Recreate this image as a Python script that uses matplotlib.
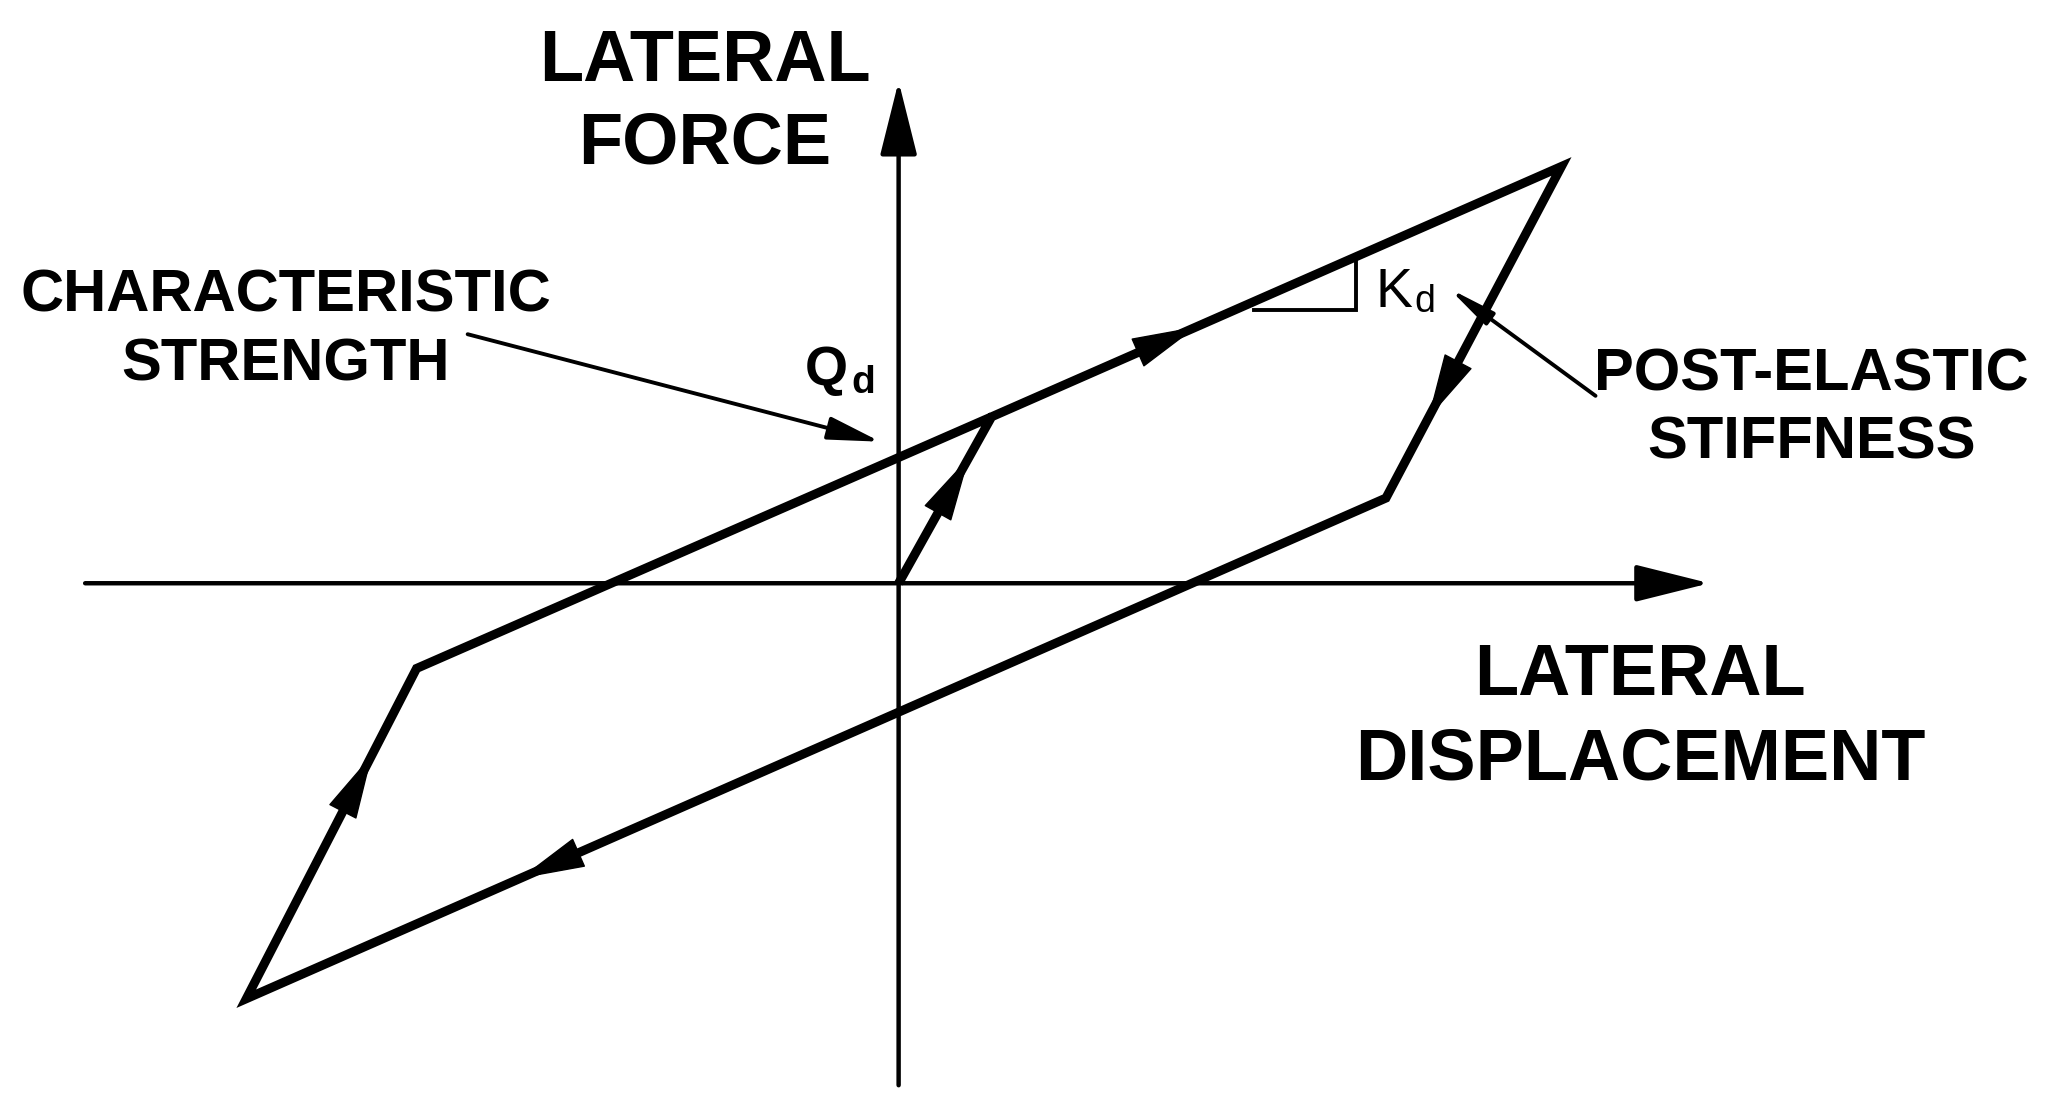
import matplotlib.pyplot as plt
import numpy as np

# hysteresis loop vertices (lateral displacement, lateral force), arbitrary units
disp = [0.0, 0.71, 5.06, 3.72, -4.98, -3.68, 0.71]
force = [0.0, 1.27, 3.18, 0.65, -3.17, -0.65, 1.27]

# direction arrows on the loop: segment index and position along it
arrow_seg = [0, 1, 2, 3, 4]
arrow_frac = [0.76, 0.36, 0.76, 0.76, 0.74]

# Kd slope triangle, displacement range on the upper branch
kd_x = [2.71, 3.49]

plt.rcParams["font.family"] = ["Liberation Sans", "DejaVu Sans"]

fig = plt.figure(figsize=(20.54, 11.18), dpi=100)
ax = fig.add_axes([0, 0, 1, 1])
ax.set_xlim(-6.86, 8.82)
ax.set_ylim(-4.08, 4.45)
ax.axis("off")

# axes with arrows
axis_arrow = dict(arrowstyle="-|>,head_length=4.6,head_width=1.15", mutation_scale=10,
                  color="black", lw=3.2, shrinkA=0, shrinkB=0)
ax.annotate("", xy=(6.19, 0), xytext=(-6.21, 0), arrowprops=axis_arrow)
ax.annotate("", xy=(0, 3.83), xytext=(0, -3.83), arrowprops=axis_arrow)

# loop
ax.plot(disp, force, color="black", lw=6.5, solid_joinstyle="miter", solid_capstyle="butt")

for seg, f in zip(arrow_seg, arrow_frac):
    p0 = np.array([disp[seg], force[seg]])
    p1 = np.array([disp[seg + 1], force[seg + 1]])
    tip = p0 + f * (p1 - p0)
    u = (p1 - p0) / np.hypot(*(p1 - p0))
    ax.annotate("", xy=tip, xytext=tip - 0.5 * u,
                arrowprops=dict(arrowstyle="-|>,head_length=4.4,head_width=1.05",
                                mutation_scale=10, color="black", lw=1,
                                shrinkA=0, shrinkB=0))

# Kd triangle on the upper branch
slope = (force[2] - force[1]) / (disp[2] - disp[1])
y0 = force[1] + (kd_x[0] - disp[1]) * slope - 0.06
y1 = force[1] + (kd_x[1] - disp[1]) * slope
ax.plot([kd_x[0], kd_x[1], kd_x[1]], [y0, y0, y1], color="black", lw=2.8,
        solid_joinstyle="miter")

ax.text(3.64, 2.11, "K", fontsize=40, ha="left", va="baseline")
ax.text(3.94, 2.07, "d", fontsize=27, ha="left", va="baseline")
ax.text(-0.72, 1.51, "Q", fontsize=40, fontweight="bold", ha="left", va="baseline")
ax.text(-0.36, 1.45, "d", fontsize=28, fontweight="bold", ha="left", va="baseline")

# callouts
ax.annotate("", xy=(-0.14, 1.08), xytext=(-3.29, 1.90),
            arrowprops=dict(arrowstyle="-|>,head_length=3.2,head_width=0.7", mutation_scale=10,
                            color="black", lw=2.8, shrinkA=0, shrinkB=0))
ax.annotate("", xy=(4.20, 2.25), xytext=(5.32, 1.43),
            arrowprops=dict(arrowstyle="-|>,head_length=2.8,head_width=0.45", mutation_scale=10,
                            color="black", lw=2.8, shrinkA=0, shrinkB=0))

big = dict(fontsize=52, fontweight="bold", ha="center", va="baseline")
mid = dict(fontsize=43, fontweight="bold", ha="center", va="baseline")
ax.text(-1.48, 3.83, "LATERAL", **big)
ax.text(-1.48, 3.20, "FORCE", **big)
ax.text(5.66, -0.85, "LATERAL", **big)
ax.text(5.66, -1.50, "DISPLACEMENT", **big)
ax.text(-4.68, 2.07, "CHARACTERISTIC", **mid)
ax.text(-4.68, 1.55, "STRENGTH", **mid)
ax.text(6.97, 1.47, "POST-ELASTIC", **mid)
ax.text(6.97, 0.95, "STIFFNESS", **mid)

fig.savefig("out.png", dpi=100, facecolor="white")
